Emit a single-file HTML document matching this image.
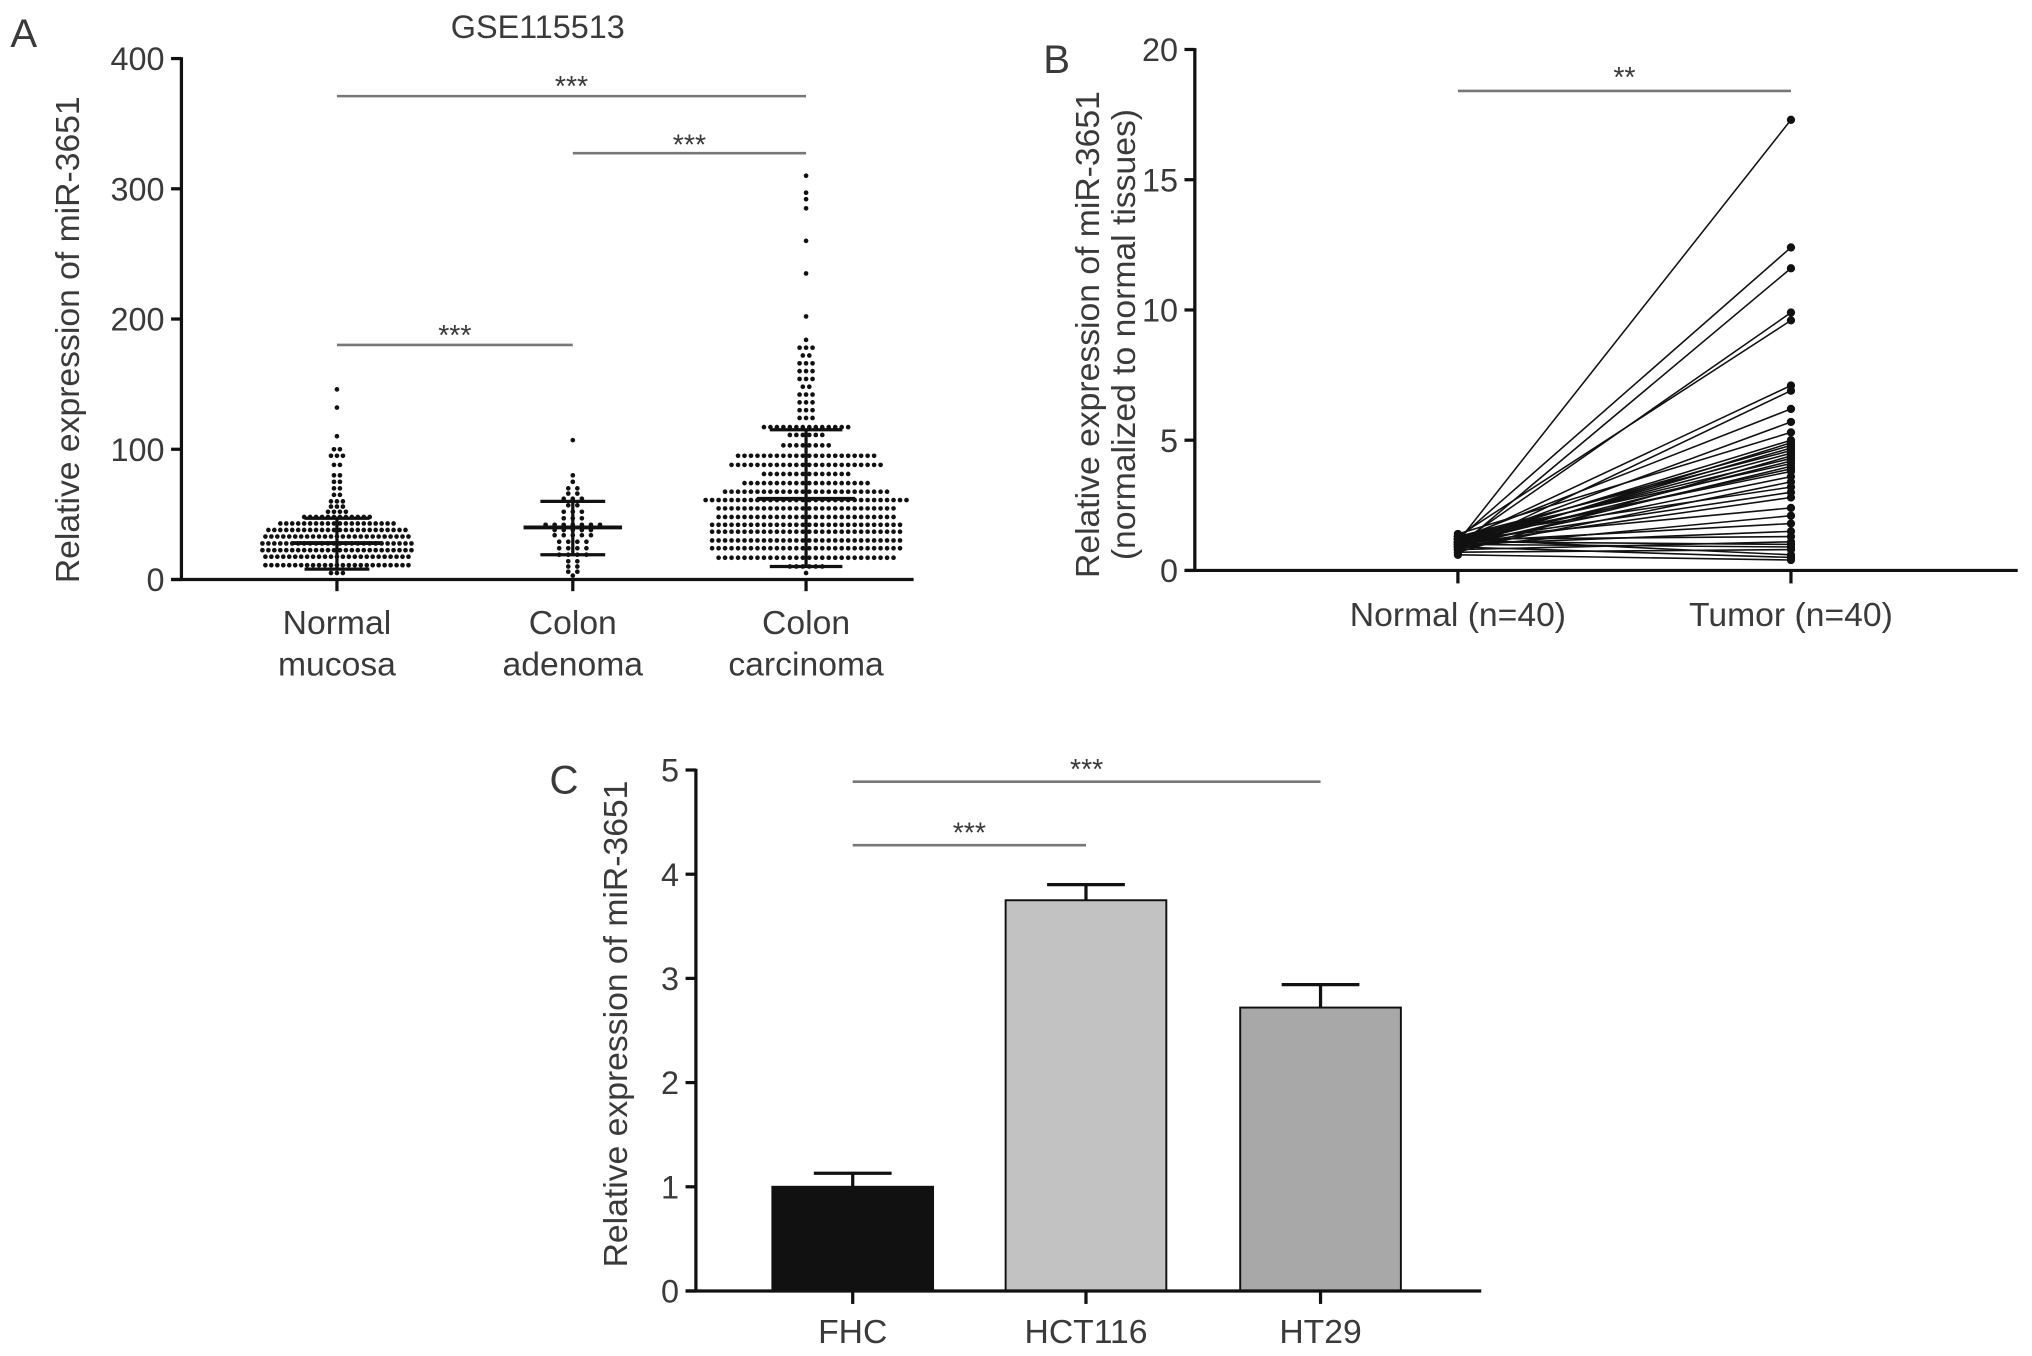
<!DOCTYPE html>
<html><head><meta charset="utf-8"><style>
html,body{margin:0;padding:0;background:#fff}
svg{display:block}
text{font-family:"Liberation Sans",Arial,sans-serif;fill:#3a3a3a}
</style></head><body>
<svg id="fig" width="2032" height="1356" viewBox="0 0 1568 1046" xmlns="http://www.w3.org/2000/svg">
<g id="pa"></g>
<g id="pb"></g>
<g id="pc"></g>
</svg>
<script>
// ---------- Panel A data: [value, count] ----------
const aCategories = ["Normal|mucosa","Colon|adenoma","Colon|carcinoma"];
const aTicks = [0,100,200,300,400];
const normalBins = [[5,3],[11,25],[17.5,25],[22.5,26],[27.7,26],[33,25],[38,24],[43,20],[48,12],[52,4],[56,3],[60,3],[65,2],[70,2],[75,2],[80,2],[88,2],[95,3],[100,2],[110,1],[132,1],[146,1]];
const adenomaBins = [[3,1],[6,2],[10,2],[14,2],[19,4],[24,4],[29,4],[34,5],[38,5],[42,7],[47,3],[52,3],[57,2],[62,3],[66,2],[70,2],[75,1],[80,1],[107,1]];
const carcinomaBins = [[5,1],[10,6],[16.7,28],[24,30],[30,30],[36.7,30],[42,30],[48,28],[54.6,28],[61,32],[67.4,26],[74,20],[81,14],[88,24],[95,22],[103,8],[111,6],[117,14],[124,3],[130,3],[136,3],[142,3],[148,2],[154,3],[160,3],[166,3],[172,2],[178,3],[184,1],[202,1],[235,1],[260,1],[285,1],[292,1],[297,1],[310,1]];
const aMean = [28,40,62];
const aSdHi = [47,60,115];
const aSdLo = [8,19,10];
// ---------- Panel B data ----------
const bCategories = ["Normal (n=40)","Tumor (n=40)"];
const bTicks = [0,5,10,15,20];
const bNormal = [1.1,1.2,0.9,1.0,1.3,1.1,0.8,1.2,1.0,1.4,1.1,0.9,1.2,1.0,1.3,1.1,0.7,1.2,1.0,1.3,0.9,1.1,1.2,1.0,0.8,1.3,1.1,1.0,1.2,0.9,1.1,1.0,1.2,0.8,1.1,1.0,0.7,1.2,0.9,0.6];
const bTumor = [17.3,12.4,11.6,9.9,9.6,7.1,6.9,6.2,5.7,5.3,5.0,4.9,4.8,4.7,4.6,4.5,4.4,4.3,4.2,4.1,4.0,3.9,3.8,3.6,3.4,3.2,3.0,2.8,2.4,2.1,1.8,1.5,1.3,1.1,1.0,0.9,0.8,0.6,0.5,0.4];
// ---------- Panel C data ----------
const cCategories = ["FHC","HCT116","HT29"];
const cValues = [1.0,3.75,2.72];
const cErrors = [0.13,0.15,0.22];
const cTicks = [0,1,2,3,4,5];

const NS="http://www.w3.org/2000/svg";
const TF=25, CF=26, TT=26;
function mk(parent,tag,attrs,txt){const e=document.createElementNS(NS,tag);for(const k in attrs)e.setAttribute(k,attrs[k]);if(txt!==undefined)e.textContent=txt;parent.appendChild(e);return e;}

// ===== Panel A =====
(function(){
const g=document.getElementById('pa');
const y=v=>447-v*(402/400);
const xs=[260,442,622];
const ax=140;
let e;
e=mk(g,'text',{x:8,y:36,'font-size':31},'A');

e=mk(g,'text',{x:415,y:29,'font-size':25,'text-anchor':'middle'},'GSE115513');

e=mk(g,'line',{x1:ax,y1:y(400)-1,x2:ax,y2:447,stroke:'#111','stroke-width':2.5});

e=mk(g,'line',{x1:ax-8,y1:447,x2:705,y2:447,stroke:'#111','stroke-width':2.5});

aTicks.forEach(t=>{
 e=mk(g,'line',{x1:ax-8,y1:y(t),x2:ax,y2:y(t),stroke:'#111','stroke-width':2.5});
 
 e=mk(g,'text',{x:ax-13,y:y(t)+9,'font-size':TF,'text-anchor':'end'},t);
 
});
e=mk(g,'text',{x:0,y:0,'font-size':TT,'text-anchor':'middle',transform:'translate(61,262) rotate(-90)'},'Relative expression of miR-3651');

aCategories.forEach((c,i)=>{
 e=mk(g,'line',{x1:xs[i],y1:447,x2:xs[i],y2:456,stroke:'#111','stroke-width':2.5});
 
 const p=c.split('|');
 e=mk(g,'text',{x:xs[i],y:489,'font-size':CF,'text-anchor':'middle'},p[0]);
 
 e=mk(g,'text',{x:xs[i],y:521,'font-size':CF,'text-anchor':'middle'},p[1]);
 
});
const groups=[normalBins,adenomaBins,carcinomaBins];
groups.forEach((bins,gi)=>{
 bins.forEach(b=>{
  const n=b[1];const sp=gi===1?7:(gi===2?5:4.6);
  for(let k=0;k<n;k++){
   const off=(k-(n-1)/2)*sp;
   e=mk(g,'circle',{cx:xs[gi]+off,cy:y(b[0]),r:1.8,fill:'#111'});
   
  }
 });
 const hw=[35,38,38][gi], sw=[25,25,28][gi];
 e=mk(g,'line',{x1:xs[gi],y1:y(aSdHi[gi]),x2:xs[gi],y2:y(aSdLo[gi]),stroke:'#111','stroke-width':2.5});
 
 e=mk(g,'line',{x1:xs[gi]-hw,y1:y(aMean[gi]),x2:xs[gi]+hw,y2:y(aMean[gi]),stroke:'#111','stroke-width':3});
 
 [aSdHi[gi],aSdLo[gi]].forEach(v=>{
  e=mk(g,'line',{x1:xs[gi]-sw,y1:y(v),x2:xs[gi]+sw,y2:y(v),stroke:'#111','stroke-width':2.5});
  
 });
});
[[0,2,74,63],[1,2,118,108],[0,1,266,255]].forEach(s=>{
 e=mk(g,'line',{x1:xs[s[0]],y1:s[2],x2:xs[s[1]],y2:s[2],stroke:'#777','stroke-width':2});
 
 e=mk(g,'text',{x:(xs[s[0]]+xs[s[1]])/2,y:s[3]+11,'font-size':22,'text-anchor':'middle',fill:'#444'},'***');
 
});
})();

// ===== Panel B =====
(function(){
const g=document.getElementById('pb');
const y=v=>440-v*(402/20);
const xs=[1125,1382];
const ax=922;
let e;
e=mk(g,'text',{x:805,y:56,'font-size':31},'B');

e=mk(g,'line',{x1:ax,y1:y(20)-1,x2:ax,y2:440,stroke:'#111','stroke-width':2.5});

e=mk(g,'line',{x1:ax-8,y1:440,x2:1557,y2:440,stroke:'#111','stroke-width':2.5});

bTicks.forEach(t=>{
 e=mk(g,'line',{x1:ax-8,y1:y(t),x2:ax,y2:y(t),stroke:'#111','stroke-width':2.5});
 
 e=mk(g,'text',{x:ax-13,y:y(t)+9,'font-size':TF,'text-anchor':'end'},t);
 
});
e=mk(g,'text',{x:0,y:0,'font-size':TT,'text-anchor':'middle',transform:'translate(848,258) rotate(-90)'},'Relative expression of miR-3651');

e=mk(g,'text',{x:0,y:0,'font-size':TT,'text-anchor':'middle',transform:'translate(876,258) rotate(-90)'},'(normalized to normal tissues)');

bCategories.forEach((c,i)=>{
 e=mk(g,'line',{x1:xs[i],y1:440,x2:xs[i],y2:450,stroke:'#111','stroke-width':2.5});
 
 e=mk(g,'text',{x:xs[i],y:483,'font-size':CF,'text-anchor':'middle'},c);
 
});
bNormal.forEach((v,i)=>{
 e=mk(g,'line',{x1:xs[0],y1:y(v),x2:xs[1],y2:y(bTumor[i]),stroke:'#111','stroke-width':1.2});
 
});
bNormal.forEach((v,i)=>{
 e=mk(g,'circle',{cx:xs[0],cy:y(v),r:3.2,fill:'#111'});
 
 e=mk(g,'circle',{cx:xs[1],cy:y(bTumor[i]),r:3.2,fill:'#111'});
 
});
e=mk(g,'line',{x1:xs[0],y1:70,x2:xs[1],y2:70,stroke:'#777','stroke-width':2});

e=mk(g,'text',{x:(xs[0]+xs[1])/2,y:67,'font-size':22,'text-anchor':'middle',fill:'#444'},'**');

})();

// ===== Panel C =====
(function(){
const g=document.getElementById('pc');
const y=v=>996-v*(402/5);
const xs=[658,838,1019];
const ax=537;
const fills=['#111','#c2c2c2','#a8a8a8'];
let e;
e=mk(g,'text',{x:424,y:612,'font-size':31},'C');

cCategories.forEach((c,i)=>{
 e=mk(g,'line',{x1:xs[i],y1:y(cValues[i]),x2:xs[i],y2:y(cValues[i]+cErrors[i]),stroke:'#111','stroke-width':2.5});
 
 e=mk(g,'line',{x1:xs[i]-30,y1:y(cValues[i]+cErrors[i]),x2:xs[i]+30,y2:y(cValues[i]+cErrors[i]),stroke:'#111','stroke-width':2.5});
 
 e=mk(g,'rect',{x:xs[i]-62,y:y(cValues[i]),width:124,height:996-y(cValues[i]),fill:fills[i],stroke:'#111','stroke-width':1.5});
 
 e=mk(g,'line',{x1:xs[i],y1:996,x2:xs[i],y2:1006,stroke:'#111','stroke-width':2.5});
 
 e=mk(g,'text',{x:xs[i],y:1036,'font-size':CF,'text-anchor':'middle'},c);
 
});
e=mk(g,'line',{x1:ax,y1:y(5)-1,x2:ax,y2:996,stroke:'#111','stroke-width':2.5});

e=mk(g,'line',{x1:ax-8,y1:996,x2:1143,y2:996,stroke:'#111','stroke-width':2.5});

cTicks.forEach(t=>{
 e=mk(g,'line',{x1:ax-8,y1:y(t),x2:ax,y2:y(t),stroke:'#111','stroke-width':2.5});
 
 e=mk(g,'text',{x:ax-13,y:y(t)+9,'font-size':TF,'text-anchor':'end'},t);
 
});
e=mk(g,'text',{x:0,y:0,'font-size':TT,'text-anchor':'middle',transform:'translate(484,790) rotate(-90)'},'Relative expression of miR-3651');

[[0,2,603],[0,1,652]].forEach(s=>{
 e=mk(g,'line',{x1:xs[s[0]],y1:s[2],x2:xs[s[1]],y2:s[2],stroke:'#777','stroke-width':2});
 
 e=mk(g,'text',{x:(xs[s[0]]+xs[s[1]])/2,y:s[2]-2,'font-size':22,'text-anchor':'middle',fill:'#444'},'***');
 
});
})();
</script>
</body></html>
